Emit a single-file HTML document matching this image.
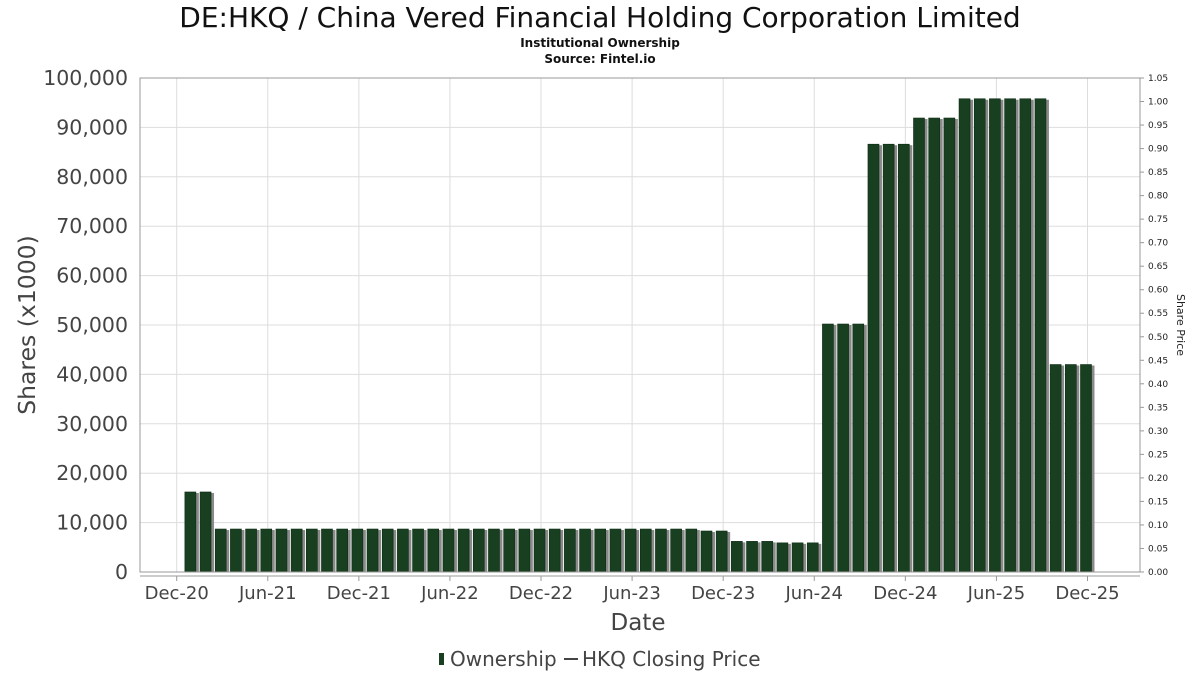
<!DOCTYPE html>
<html><head><meta charset="utf-8"><style>
body{margin:0;background:#fff;}
svg{display:block;font-family:"DejaVu Sans","Liberation Sans",sans-serif;}
</style></head><body>
<svg id="chart" width="1200" height="675">
<text x="600" y="27" text-anchor="middle" font-size="28" fill="#111">DE:HKQ / China Vered Financial Holding Corporation Limited</text>
<text x="600" y="47" text-anchor="middle" font-size="12" font-weight="bold" fill="#111">Institutional Ownership</text>
<text x="600" y="63" text-anchor="middle" font-size="12" font-weight="bold" fill="#111">Source: Fintel.io</text>
<g id="grid"></g><g id="bars"></g><g id="axes"></g>
<text x="638" y="630" text-anchor="middle" font-size="23" fill="#444">Date</text>
<text transform="translate(35,325) rotate(-90)" text-anchor="middle" font-size="23.5" fill="#444">Shares (x1000)</text>
<text transform="translate(1177,325) rotate(90)" text-anchor="middle" font-size="11" fill="#222">Share Price</text>
<g>
<rect x="439" y="653" width="5" height="12" fill="#173f20"/>
<text x="450" y="666" font-size="20" fill="#444">Ownership</text>
<line x1="564" y1="659" x2="578" y2="659" stroke="#444" stroke-width="2"/>
<text x="582" y="666" font-size="20" fill="#444">HKQ Closing Price</text>
</g>
</svg>
<script>
// monthly values Jan-21 .. Dec-25 (shares x1000)
const months = Array.from({length:60},(_,i)=>i+1);
const ownership = [16200,16200,
 8700,8700,8700,8700,8700,8700,8700,8700,8700,8700,
 8700,8700,8700,8700,8700,8700,8700,8700,8700,8700,8700,8700,
 8700,8700,8700,8700,8700,8700,8700,8700,8700,8700,8300,8300,
 6200,6200,6200,5900,5900,5900,50200,50200,50200,86600,86600,86600,
 91900,91900,91900,95800,95800,95800,95800,95800,95800,42000,42000,42000];
const leftTicks = [0,10000,20000,30000,40000,50000,60000,70000,80000,90000,100000];
const rightTicks = Array.from({length:22},(_,i)=>i*0.05);
const xLabels = ["Dec-20","Jun-21","Dec-21","Jun-22","Dec-22","Jun-23","Dec-23","Jun-24","Dec-24","Jun-25","Dec-25"];

const NS="http://www.w3.org/2000/svg";
const L=140,R=1140,T=78,B=572;
const y=v=>B-(v/100000)*(B-T);
const yr=v=>B-(v/1.05)*(B-T);
const x=m=>176.7+m*15.18;
function mk(tag,attrs,parent){const e=document.createElementNS(NS,tag);for(const k in attrs)e.setAttribute(k,attrs[k]);document.getElementById(parent).appendChild(e);return e;}

leftTicks.forEach(v=>{
 const g=mk('line',{x1:L,x2:R,y1:y(v),y2:y(v),stroke:'#ddd'},'grid');
 
 
 const t=mk('text',{x:128,y:y(v)+7,'text-anchor':'end','font-size':20.5,fill:'#444'},'axes');
 t.textContent=v.toLocaleString('en-US');
 
 
});
xLabels.forEach((s,i)=>{
 const xx=x(i*6);
 const g=mk('line',{x1:xx,x2:xx,y1:T,y2:B,stroke:'#ddd'},'grid');
 
 
 const tk=mk('line',{x1:xx,x2:xx,y1:B+4,y2:B+9,stroke:'#999'},'axes');
 
 
 const t=mk('text',{x:xx,y:599,'text-anchor':'middle','font-size':18,fill:'#444'},'axes');
 t.textContent=s;
 
 
});
rightTicks.forEach(v=>{
 const t=mk('text',{x:1148,y:yr(v)+3,'font-size':9,fill:'#222'},'axes');
 t.textContent=v.toFixed(2);
 
 
 const tk=mk('line',{x1:R,x2:R+4,y1:yr(v),y2:yr(v),stroke:'#999'},'axes');
 
 
});
const frame=mk('rect',{x:L,y:T,width:R-L,height:B-T,fill:'none',stroke:'#999'},'axes');


const xa=mk('line',{x1:L,x2:R,y1:B+4,y2:B+4,stroke:'#999'},'axes');



months.forEach((m,i)=>{
 const v=ownership[i];
 const cx=x(m-0.1), w=11, top=y(v);
 const sh=mk('rect',{x:cx-w/2+3,y:top+1,width:w,height:B-top-1,fill:'#8a8a8a'},'bars');
 
 
 const b=mk('rect',{x:cx-w/2,y:top,width:w,height:B-top,fill:'#173f20',stroke:'#0f2d16','stroke-width':0.6},'bars');
 
 
});
</script>
</body></html>
